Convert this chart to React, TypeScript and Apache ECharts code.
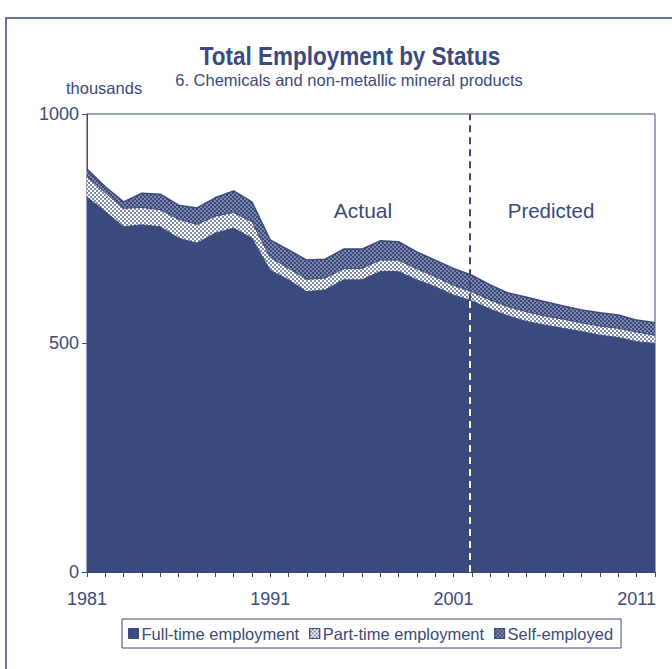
import React, { useEffect, useRef } from 'react';
import * as echarts from 'echarts';

const years = [1981, 1982, 1983, 1984, 1985, 1986, 1987, 1988, 1989, 1990, 1991, 1992, 1993, 1994, 1995, 1996, 1997, 1998, 1999, 2000, 2001, 2002, 2003, 2004, 2005, 2006, 2007, 2008, 2009, 2010, 2011, 2012];
const fullTime = [819, 787, 754, 758, 754, 729, 718, 740, 751, 729, 659, 638, 612, 616, 638, 638, 656, 656, 638, 623, 605, 592, 574, 559, 547, 539, 532, 525, 517, 512, 503, 499];
const partTime = [45, 41, 40, 38, 37, 41, 41, 37, 34, 36, 28, 25, 27, 26, 24, 25, 25, 25, 24, 22, 21, 20, 20, 20, 21, 20, 20, 19, 20, 20, 21, 18];
const selfEmployed = [16, 13, 14, 31, 34, 31, 36, 40, 47, 43, 38, 40, 42, 41, 43, 42, 42, 40, 37, 36, 37, 36, 33, 30, 32, 31, 29, 28, 29, 29, 26, 27];
const seriesNames = ['Full-time employment', 'Part-time employment', 'Self-employed'];
const xLabelYears = [1981, 1991, 2001, 2011];
const yTicks = [0, 500, 1000];
const forecastStart = 2001.9;

const NAVY = '#3b4a7c';
const FONT = '"Liberation Sans", Arial, Helvetica, sans-serif';

function interpAt(vals: number[], x: number) {
  for (let i = 0; i < years.length - 1; i++) {
    if (x >= years[i] && x <= years[i + 1]) {
      const t = (x - years[i]) / (years[i + 1] - years[i]);
      return vals[i] + t * (vals[i + 1] - vals[i]);
    }
  }
  return vals[vals.length - 1];
}

export default function App() {
  const ref = useRef<HTMLDivElement>(null);
  useEffect(() => {
    const chart = echarts.init(ref.current!, null, { renderer: 'svg' });
    const dotsOnWhite = {
      symbol: 'circle',
      symbolSize: 0.8,
      color: NAVY,
      dashArrayX: [[2, 2], [0, 2, 2, 0]],
      dashArrayY: [2, 0],
      rotation: 0,
    };
    const dotsOnNavy = {
      symbol: 'circle',
      symbolSize: 0.6,
      color: '#ffffff',
      dashArrayX: [[2, 2], [0, 2, 2, 0]],
      dashArrayY: [2, 0],
      rotation: 0,
    };
    const ftAtSplit = interpAt(fullTime, forecastStart);
    const yMax = yTicks[yTicks.length - 1];

    const option: any = {
      animation: false,
      backgroundColor: '#ffffff',
      grid: {
        left: 87,
        right: 17,
        top: 114,
        bottom: 97,
        containLabel: false,
        show: true,
        borderColor: NAVY,
        borderWidth: 1,
      },
      legend: {
        data: seriesNames,
        left: 122,
        top: 619,
        padding: [6, 8, 6, 6],
        itemGap: 10,
        itemWidth: 10,
        itemHeight: 10,
        icon: 'rect',
        borderColor: NAVY,
        borderWidth: 1,
        itemStyle: { borderColor: NAVY, borderWidth: 1 },
        textStyle: { color: NAVY, fontSize: 16.5, fontFamily: FONT, padding: [0, 0, 0, -2] },
      },
      xAxis: [
        {
          type: 'category',
          data: years.map(String),
          boundaryGap: false,
          axisLine: { show: true, lineStyle: { color: NAVY, width: 1 } },
          axisTick: { show: true, interval: 0, length: 5, inside: false, lineStyle: { color: NAVY } },
          splitLine: { show: false },
          axisLabel: {
            interval: 0,
            color: NAVY,
            fontSize: 18,
            fontFamily: FONT,
            margin: 18,
            formatter: (v: string) => (xLabelYears.indexOf(Number(v)) >= 0 ? v : ''),
          },
        },
        {
          type: 'value',
          show: false,
          min: years[0],
          max: years[years.length - 1],
          position: 'bottom',
        },
      ],
      yAxis: {
        type: 'value',
        min: yTicks[0],
        max: yMax,
        interval: 500,
        axisLine: { show: true, lineStyle: { color: NAVY, width: 1 } },
        axisTick: { show: true, length: 5, lineStyle: { color: NAVY } },
        splitLine: { show: false },
        axisLabel: { color: NAVY, fontSize: 18, fontFamily: FONT, margin: 8, formatter: (v: number) => String(v) },
      },
      series: [
        {
          name: seriesNames[0],
          type: 'line',
          stack: 'total',
          data: fullTime,
          symbol: 'none',
          itemStyle: { color: NAVY },
          lineStyle: { color: NAVY, width: 1 },
          areaStyle: { color: NAVY, opacity: 1 },
        },
        {
          name: seriesNames[1],
          type: 'line',
          stack: 'total',
          data: partTime,
          symbol: 'none',
          itemStyle: { color: '#ffffff', decal: dotsOnWhite },
          lineStyle: { color: NAVY, width: 1 },
          areaStyle: { color: '#ffffff', opacity: 1 },
        },
        {
          name: seriesNames[2],
          type: 'line',
          stack: 'total',
          data: selfEmployed,
          symbol: 'none',
          itemStyle: { color: NAVY, decal: dotsOnNavy },
          lineStyle: { color: NAVY, width: 1.5 },
          areaStyle: { color: NAVY, opacity: 1 },
        },
        {
          name: 'forecast',
          type: 'line',
          xAxisIndex: 1,
          data: [],
          z: 10,
          silent: true,
          markLine: {
            silent: true,
            symbol: ['none', 'none'],
            label: { show: false },
            animation: false,
            data: [
              [
                { coord: [forecastStart, 0], lineStyle: { color: '#ffffff', type: [7, 5], width: 2 } },
                { coord: [forecastStart, ftAtSplit] },
              ],
              [
                { coord: [forecastStart, ftAtSplit], lineStyle: { color: NAVY, type: [7, 5], width: 2 } },
                { coord: [forecastStart, yMax] },
              ],
            ],
          },
        },
      ],
      graphic: [
        {
          type: 'rect',
          shape: { x: 6, y: 18, width: 720, height: 720 },
          style: { fill: 'none', stroke: NAVY, lineWidth: 1.5 },
          silent: true,
        },
        {
          type: 'text',
          x: 350,
          y: 56,
          scaleX: 0.9,
          style: { text: 'Total Employment by Status', fill: NAVY, fontSize: 25, fontWeight: 'bold', fontFamily: FONT, align: 'center', verticalAlign: 'middle' },
        },
        {
          type: 'text',
          x: 349,
          y: 80,
          style: { text: '6. Chemicals and non-metallic mineral products', fill: NAVY, fontSize: 16.5, fontFamily: FONT, align: 'center', verticalAlign: 'middle' },
        },
        {
          type: 'text',
          x: 66,
          y: 88,
          style: { text: 'thousands', fill: NAVY, fontSize: 16.5, fontFamily: FONT, align: 'left', verticalAlign: 'middle' },
        },
        {
          type: 'text',
          x: 363,
          y: 210,
          style: { text: 'Actual', fill: NAVY, fontSize: 21, fontFamily: FONT, align: 'center', verticalAlign: 'middle' },
        },
        {
          type: 'text',
          x: 551,
          y: 210,
          style: { text: 'Predicted', fill: NAVY, fontSize: 20.5, fontFamily: FONT, align: 'center', verticalAlign: 'middle' },
        },
      ],
    };
    chart.setOption(option);
    return () => chart.dispose();
  }, []);
  return (
    <div
      ref={ref}
      style={{ position: 'absolute', left: 0, top: 0, width: 672, height: 669, background: '#ffffff' }}
    />
  );
}
